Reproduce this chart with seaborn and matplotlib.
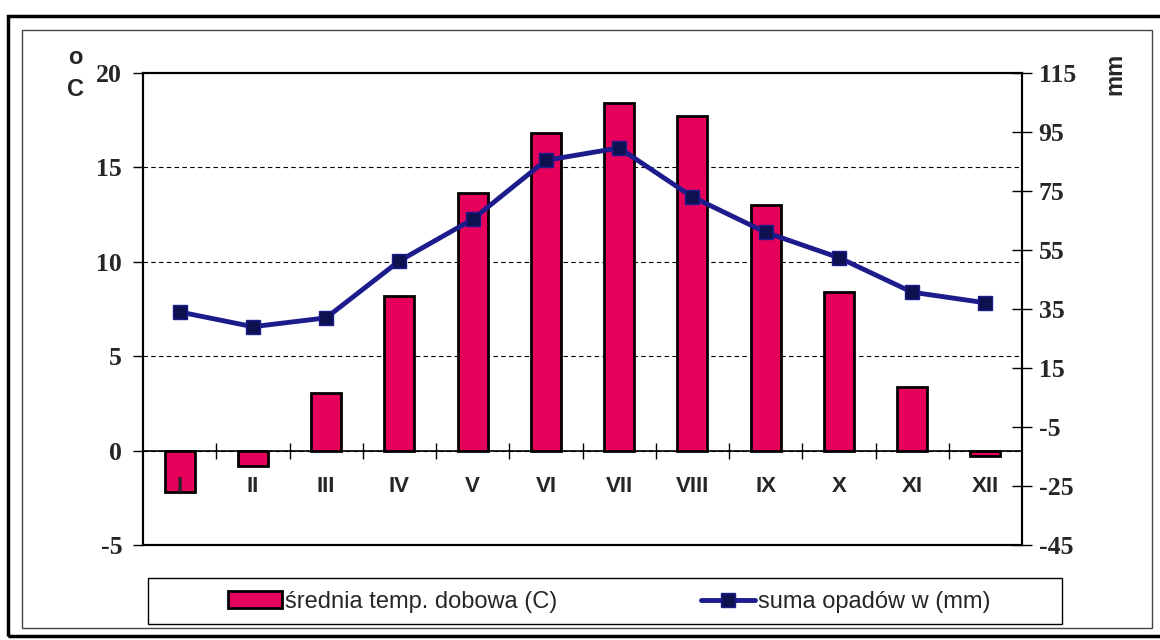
# Diagram klimatyczny: temperatura (słupki) i opady (linia)
import numpy as np
import pandas as pd
import matplotlib
matplotlib.use("Agg")
from matplotlib import pyplot as plt
from matplotlib.patches import Rectangle, Patch
from matplotlib.lines import Line2D
import seaborn as sns

# Dane
miesiace = ["I", "II", "III", "IV", "V", "VI", "VII", "VIII", "IX", "X", "XI", "XII"]
temperatura = [-2.2, -0.8, 3.05, 8.2, 13.65, 16.8, 18.4, 17.7, 13.0, 8.4, 3.35, -0.3]
opady = [34, 29, 32, 51.3, 65.4, 85.4, 89.6, 73, 61, 52.4, 40.7, 37.1]

temp_ticks = [-5, 0, 5, 10, 15, 20]
opady_ticks = [-45, -25, -5, 15, 35, 55, 75, 95, 115]

df = pd.DataFrame({"miesiac": miesiace, "temperatura": temperatura,
                   "opady": opady, "poz": np.arange(len(miesiace))})

kolor_slupki = "#E6005C"
kolor_linia = "#1c1c8c"
kolor_znacznik = "#0d1150"

sns.set_style("white")

fig = plt.figure(figsize=(11.6, 6.4), dpi=100)
ax = fig.add_axes([143 / 1160, 95 / 640, 879 / 1160, 472 / 640])

# Słupki temperatury
sns.barplot(data=df, x="miesiac", y="temperatura", color=kolor_slupki, saturation=1,
            edgecolor="black", linewidth=2, width=0.41, ax=ax, zorder=3)

ax.set_ylim(-5, 20)
ax.set_xlim(-0.5, 11.5)
ax.set_yticks(temp_ticks)
ax.set_yticklabels([str(t) for t in temp_ticks], family="Liberation Serif",
                   fontweight="bold", fontsize=18.5)
ax.tick_params(axis="y", left=True, direction="out", length=7, width=1, pad=8, color="black")
ax.set_xticks([])
ax.set_xlabel("")
ax.set_ylabel("")

# Linie siatki przerywane
ax.yaxis.grid(True, color="black", linestyle=(0, (4, 3)), linewidth=0.8)
ax.set_axisbelow(True)

# Oś zero z kreskami
ax.axhline(0, color="black", lw=1.2, zorder=2)
ax.vlines(np.arange(11) + 0.5, -0.42, 0.42, color="black", lw=1, zorder=2)

# Etykiety miesięcy
for i, m in enumerate(miesiace):
    ax.text(i, -1.9, m, ha="center", va="center", fontsize=16, fontweight="bold",
            family="Liberation Sans", zorder=5)

# Opady na drugiej osi
ax2 = ax.twinx()
sns.lineplot(data=df, x="poz", y="opady", ax=ax2, color=kolor_linia, lw=3.5,
             marker="s", markersize=10, markerfacecolor=kolor_znacznik,
             markeredgecolor=kolor_linia, markeredgewidth=1)
ax2.set_ylim(-45, 115)
ax2.set_xlim(-0.5, 11.5)
ax2.set_yticks(opady_ticks)
ax2.set_yticklabels([str(t) for t in opady_ticks], family="Liberation Serif",
                    fontweight="bold", fontsize=18.5)
ax2.tick_params(axis="y", right=True, direction="inout", length=14, width=1, pad=5, color="black")
ax2.set_xlabel("")
ax2.set_ylabel("")

for a in (ax, ax2):
    for s in a.spines.values():
        s.set_visible(True)
        s.set_color("black")
        s.set_linewidth(1.5)

# Jednostki osi
fig.text(75 / 1160, 1 - 58 / 640, "o", ha="center", va="center", fontsize=17,
         fontweight="bold", family="Liberation Sans")
fig.text(75 / 1160, 1 - 90 / 640, "C", ha="center", va="center", fontsize=17,
         fontweight="bold", family="Liberation Sans")
fig.text(1115 / 1160, 1 - 74 / 640, "mm", ha="center", va="center", fontsize=17,
         fontweight="bold", family="Liberation Sans", rotation=90)

# Legenda
uchwyty = [Patch(facecolor=kolor_slupki, edgecolor="black", linewidth=2),
           Line2D([], [], color=kolor_linia, lw=3.5, marker="s", markersize=10,
                  markerfacecolor=kolor_znacznik, markeredgecolor=kolor_linia)]
etykiety = ["średnia temp. dobowa (C)", "suma opadów w (mm)"]
fig.legend(uchwyty, etykiety, loc="center", bbox_to_anchor=(609 / 1160, 1 - 602 / 640),
           ncol=2, frameon=False, prop={"family": "Liberation Sans", "size": 17},
           handlelength=2.3, handleheight=0.7, handletextpad=0.1, columnspacing=6.1)
fig.add_artist(Rectangle((148 / 1160, 1 - 624 / 640), 914 / 1160, 46 / 640,
                         transform=fig.transFigure, fill=False, ec="black", lw=1))

# Ramki
fig.add_artist(Rectangle((22 / 1160, 1 - 628 / 640), 1130 / 1160, 598 / 640,
                         transform=fig.transFigure, fill=False, ec="#444444", lw=1))
fig.add_artist(Rectangle((8 / 1160, 1 - 636 / 640), 1160 / 1160, 620 / 640,
                         transform=fig.transFigure, fill=False, ec="black", lw=2.5))

fig.savefig("out.png", dpi=100)
